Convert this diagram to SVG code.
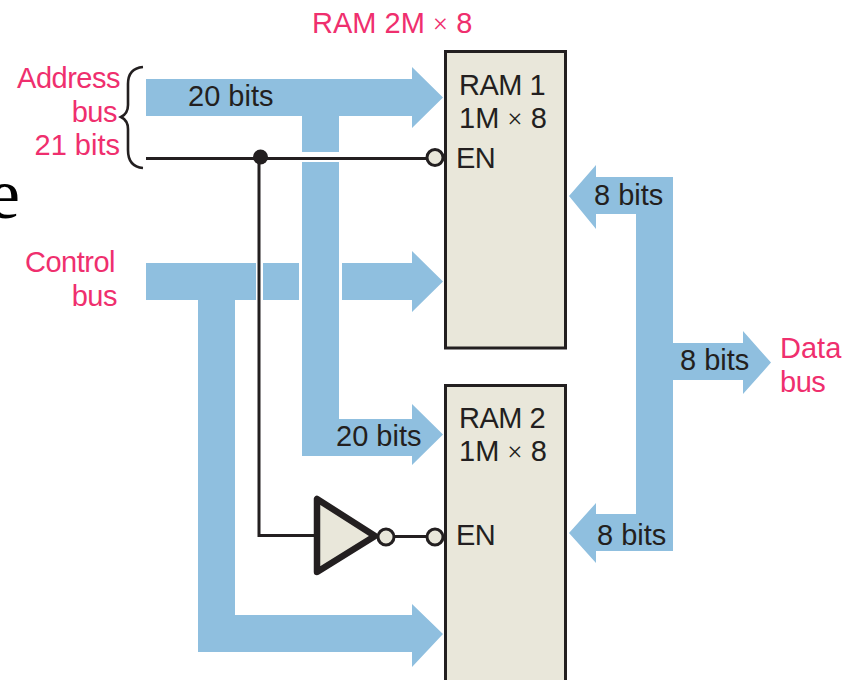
<svg xmlns="http://www.w3.org/2000/svg" width="853" height="680" viewBox="0 0 853 680">
<style>
text{font-family:"Liberation Sans",Arial,sans-serif;font-size:29px;fill:#231f20}
.p{fill:#ef2f6e}
.e{text-anchor:end}
.n{letter-spacing:-.5px}
.bus{fill:#8fbfdf;stroke:none}
.wire{fill:none;stroke:#231f20;stroke-width:3}
.ram{fill:#e9e7da;stroke:#231f20;stroke-width:3}
.bub{fill:#e9e7da;stroke:#231f20;stroke-width:3}
.x{font-family:"Liberation Serif",serif;font-size:27px}
</style>
<rect width="853" height="680" fill="#fff"/>
<text x="-12" y="218" style="font-family:'Liberation Serif',serif;font-size:72px;fill:#000">e</text>
<g id="connectors">
<path id="addr-bus" class="bus" d="M146 79H412V67L443 97.500 412 128V116H339V152H302V116H146Z"/>
<path id="addr-bus2" class="bus" d="M302 162H339V419H412V404L443 434.500 412 465V456H302Z"/>
<path id="ctrl-a" class="bus" d="M146 263H256V300H235V615H412V604L443 634 412 667V652H198V300H146Z"/>
<rect id="ctrl-b" class="bus" x="263" y="263" width="36" height="37"/>
<path id="ctrl-c" class="bus" d="M342 263H412V251L443 281.500 412 312V300H342Z"/>
<path id="data-bus" class="bus" d="M569 196 596 165V177H673V343H743V331L771 362.500 743 394V380H673V551H596V563L569 533 596 503V514H636V214H596V229Z"/>
<path id="en-wire" class="wire" d="M146 158.500H428"/>
<path id="sel-wire" class="wire" d="M259 158V535.500H317"/>
<path id="inv-wire" class="wire" d="M394 536.500H428"/>
<path id="brace" fill="none" stroke="#231f20" stroke-width="2.600" d="M143 67C132 68 128 75 128 84V105C128 111 125 115 121 117C125 119 128 123 128 129V150C128 160 132 167 143 168"/>
<circle id="junction" cx="260.500" cy="157" r="7.500" fill="#231f20"/>
</g>
<g id="ram1">
<rect class="ram" x="445.500" y="51.500" width="120" height="296.500"/>
<text class="n" x="459" y="95">RAM 1</text>
<text x="459" y="128">1M <tspan class="x">×</tspan> 8</text>
<text class="n" x="456" y="168">EN</text>
<circle class="bub" cx="435" cy="157.500" r="8"/>
</g>
<g id="ram2">
<rect class="ram" x="445.500" y="385.500" width="120" height="310"/>
<text class="n" x="459" y="428">RAM 2</text>
<text x="459" y="461">1M <tspan class="x">×</tspan> 8</text>
<text class="n" x="456" y="545">EN</text>
<circle class="bub" cx="435" cy="537" r="8"/>
</g>
<g id="inverter">
<path d="M317 499V572L375 536Z" fill="#e9e7da" stroke="#231f20" stroke-width="6.500" stroke-linejoin="round"/>
<circle class="bub" cx="386" cy="537" r="8"/>
</g>
<g id="labels">
<text class="p" x="312" y="33">RAM 2M <tspan class="x">×</tspan> 8</text>
<text class="p e n" x="120" y="88">Address</text>
<text class="p e n" x="117" y="122">bus</text>
<text class="p e" x="120" y="155">21 bits</text>
<text class="p e n" x="115" y="272">Control</text>
<text class="p e n" x="117" y="306">bus</text>
<text class="p" x="780" y="358">Data</text>
<text class="p n" x="780" y="392">bus</text>
<text x="188" y="106">20 bits</text>
<text x="336" y="446">20 bits</text>
<text x="594" y="205">8 bits</text>
<text x="680" y="370">8 bits</text>
<text x="597" y="545">8 bits</text>
</g>
</svg>
